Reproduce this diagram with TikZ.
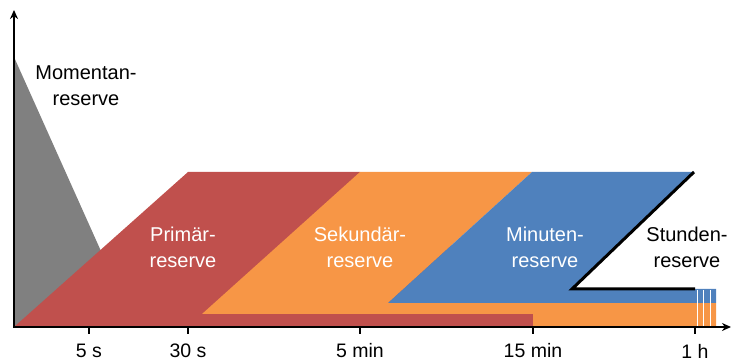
\documentclass[tikz,border=0pt]{standalone}
\usepackage{fontspec}
\setmainfont{Liberation Sans}
\usetikzlibrary{arrows.meta}
\definecolor{cgray}{HTML}{808080}
\definecolor{cred}{HTML}{C0504D}
\definecolor{corange}{HTML}{F79646}
\definecolor{cblue}{HTML}{4F81BD}
\begin{document}
\begin{tikzpicture}[x=1pt,y=-1pt,
  lbl/.style={align=center,inner sep=0pt,font=\fontsize{20}{26}\selectfont},
  tlbl/.style={inner sep=0pt,font=\fontsize{19.5}{22}\selectfont},
  axis/.style={line width=2pt,-{Stealth[length=9pt,width=8pt]}},
  tick/.style={line width=2pt}]
\useasboundingbox (0,0) rectangle (732,363);
% areas
\fill[cgray] (14,57) -- (14,327) -- (135,327) -- cycle;
\fill[cred] (14,327) -- (188,172) -- (360,172) -- (533,314) -- (533,327) -- cycle;
\fill[corange] (202,314) -- (360,172) -- (532,172) -- (388,303) -- (716,303) -- (716,327) -- (533,327) -- (533,314) -- cycle;
\fill[cblue] (388,303) -- (532,172) -- (694,172) -- (572,289) -- (716,289) -- (716,303) -- cycle;
% white separators
\foreach \x in {697,703.5,710} \draw[white,line width=0.8pt] (\x,290) -- (\x,327);
% black boundary of hour reserve
\draw[line width=3pt,miter limit=20] (694,172) -- (572,289) -- (695,289);
% axes
\coordinate (o) at (14,327);
\coordinate (ytop) at (14,10);
\coordinate (xend) at (731,327);
\draw[axis] (14,328) -- (ytop);
\draw[axis] (13,327) -- (xend);
% ticks
\foreach \x/\t/\n in {89/5 s/a,188/30 s/b,360/5 min/c,533/15 min/d,695/1 h/e}{
  \draw[tick] (\x,327) -- (\x,334);
  \node[tlbl] (t\n) at (\x,351) {\t};
}
% labels
\node[lbl] (mom) at (86,86) {Momentan-\\reserve};
\node[lbl,white] (pri) at (183,247) {Primär-\\reserve};
\node[lbl,white] (sek) at (360,247) {Sekundär-\\reserve};
\node[lbl,white] (min) at (545,247) {Minuten-\\reserve};
\node[lbl] (std) at (687,247) {Stunden-\\reserve};
\end{tikzpicture}
\end{document}
